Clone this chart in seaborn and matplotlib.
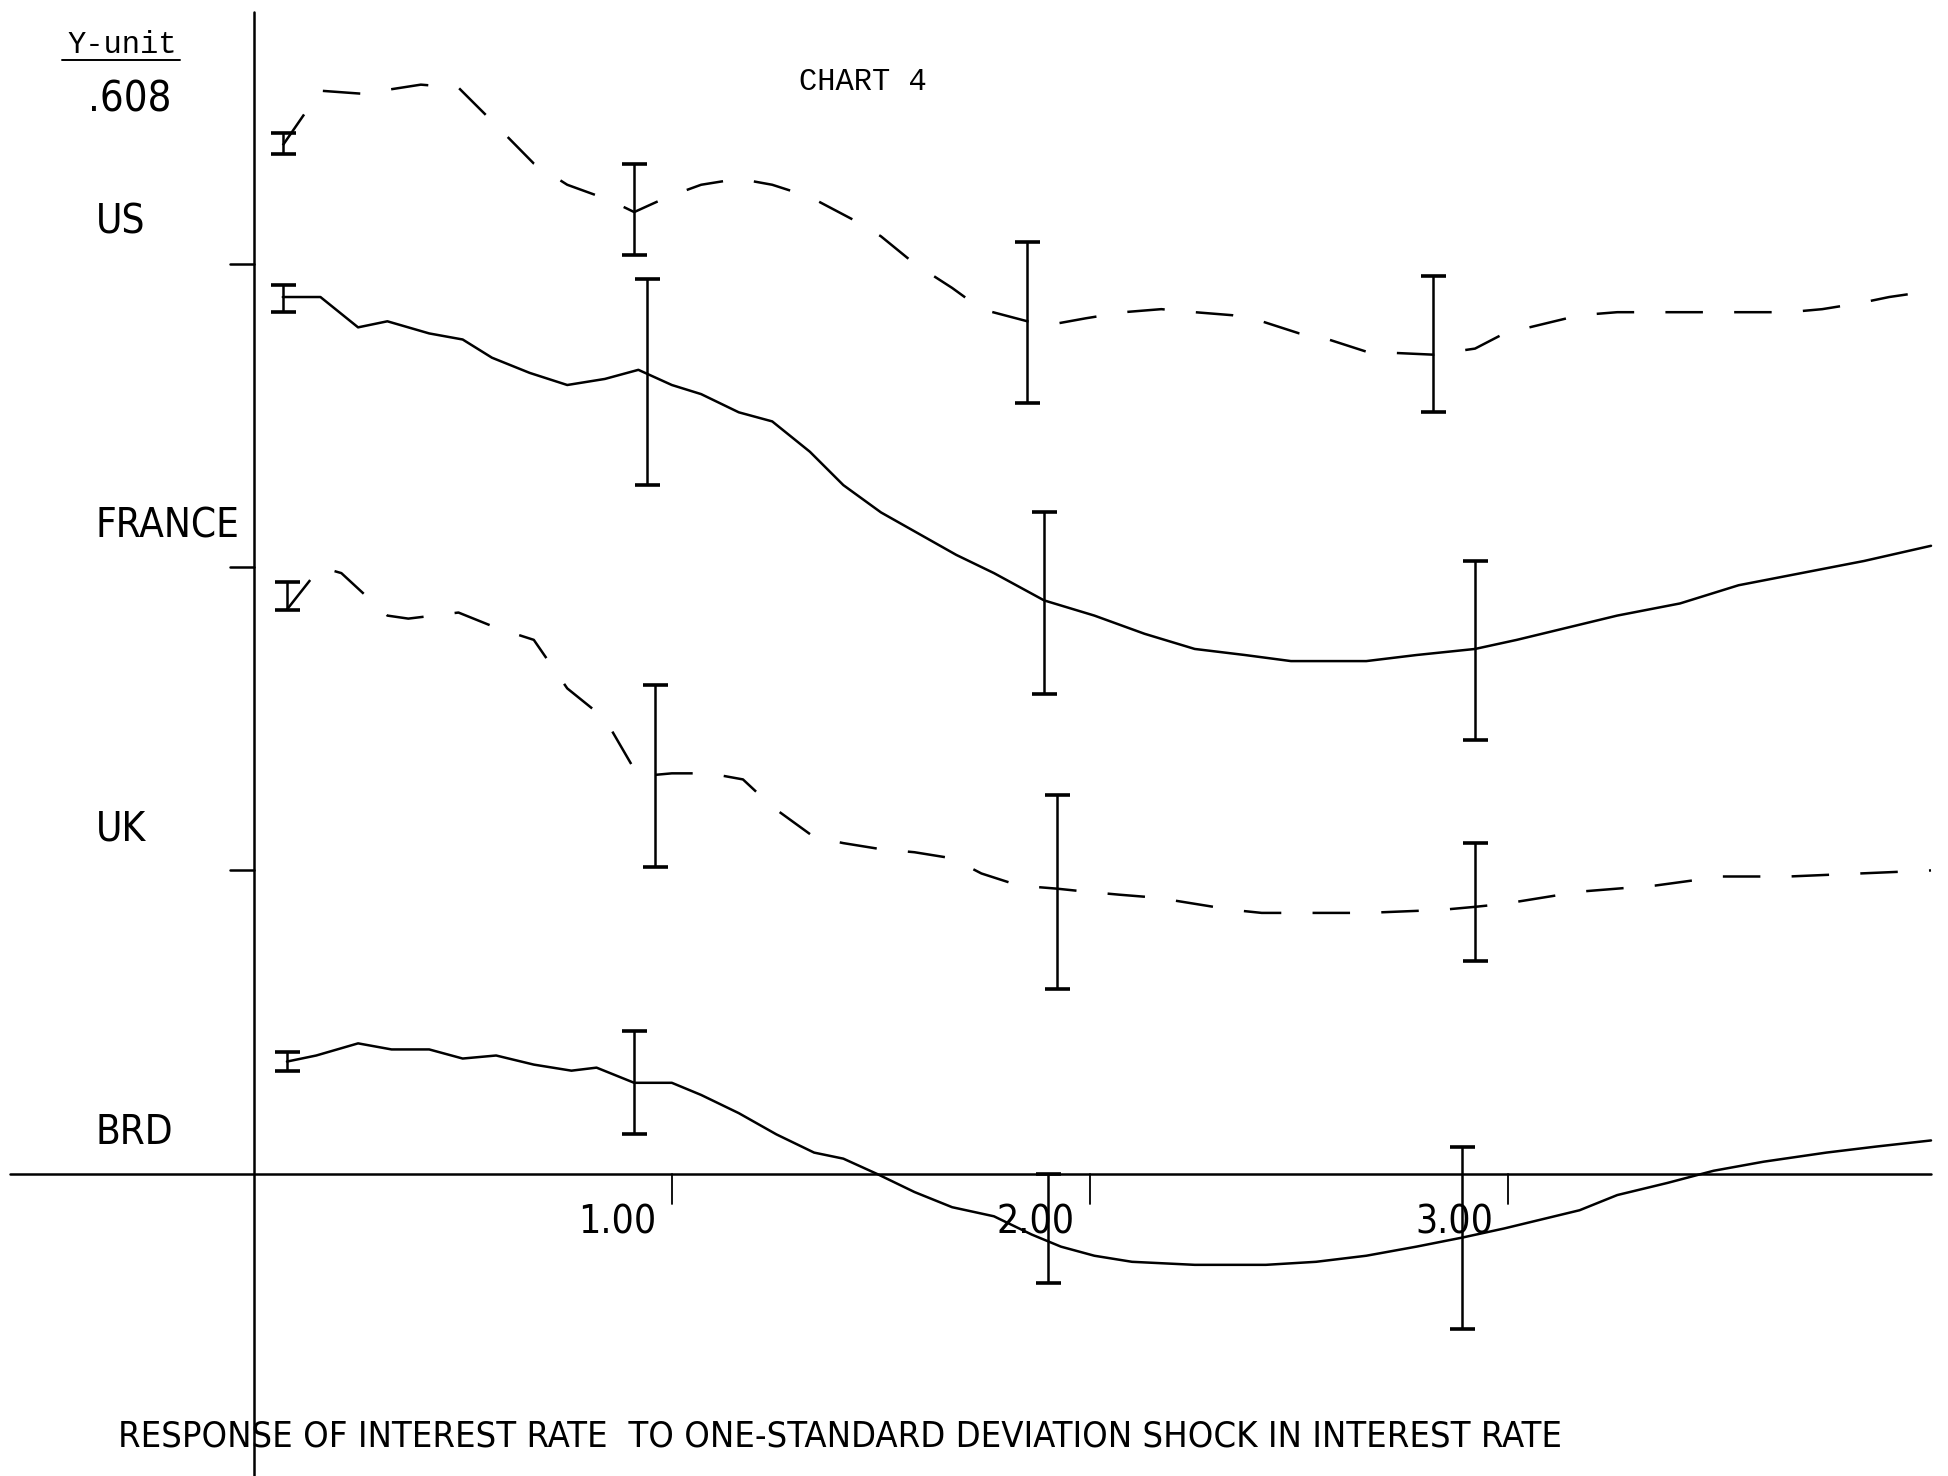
import numpy as np
import pandas as pd
import seaborn as sns
import matplotlib
matplotlib.use("Agg")
import matplotlib.pyplot as plt
from matplotlib import font_manager as fm

# impulse responses, each panel relative to its own baseline (x in years)
us_x = [0.07, 0.16, 0.26, 0.40, 0.49, 0.57, 0.67, 0.75, 0.85, 0.91, 0.99, 1.07, 1.16, 1.24, 1.33,
        1.44, 1.50, 1.58, 1.67, 1.74, 1.85, 1.91, 1.99, 2.08, 2.17, 2.25, 2.34, 2.41, 2.50, 2.57,
        2.66, 2.82, 2.92, 2.99, 3.08, 3.17, 3.26, 3.51, 3.67, 3.75, 3.84, 3.91, 4.01]
us_y = [0.39, 0.57, 0.56, 0.59, 0.58, 0.47, 0.33, 0.26, 0.21, 0.17, 0.22, 0.26, 0.28, 0.26, 0.22,
        0.14, 0.09, 0.00, -0.08, -0.15, -0.19, -0.20, -0.18, -0.16, -0.15, -0.16, -0.17, -0.19, -0.23, -0.25,
        -0.29, -0.30, -0.28, -0.23, -0.20, -0.17, -0.16, -0.16, -0.16, -0.15, -0.13, -0.11, -0.09]

fr_x = [0.07, 0.16, 0.25, 0.32, 0.42, 0.50, 0.57, 0.66, 0.75, 0.84, 0.92, 1.00, 1.07, 1.16, 1.24,
        1.33, 1.41, 1.50, 1.59, 1.68, 1.77, 1.89, 2.01, 2.13, 2.25, 2.37, 2.48, 2.66, 2.78, 2.92,
        3.02, 3.14, 3.26, 3.41, 3.55, 3.70, 3.85, 4.01]
fr_y = [0.89, 0.89, 0.79, 0.81, 0.77, 0.75, 0.69, 0.64, 0.60, 0.62, 0.65, 0.60, 0.57, 0.51, 0.48,
        0.38, 0.27, 0.18, 0.11, 0.04, -0.02, -0.11, -0.16, -0.22, -0.27, -0.29, -0.31, -0.31, -0.29, -0.27,
        -0.24, -0.20, -0.16, -0.12, -0.06, -0.02, 0.02, 0.07]

uk_x = [0.08, 0.16, 0.21, 0.32, 0.37, 0.49, 0.58, 0.67, 0.75, 0.84, 0.92, 1.00, 1.09, 1.17, 1.24,
        1.34, 1.41, 1.50, 1.58, 1.67, 1.74, 1.83, 1.92, 1.99, 2.07, 2.16, 2.25, 2.34, 2.41, 2.50,
        2.66, 2.84, 2.92, 2.99, 3.08, 3.17, 3.26, 3.35, 3.51, 3.67, 3.84, 4.01]
uk_y = [0.86, 1.00, 0.98, 0.84, 0.83, 0.85, 0.80, 0.76, 0.60, 0.50, 0.31, 0.32, 0.32, 0.30, 0.21,
        0.11, 0.09, 0.07, 0.06, 0.04, -0.01, -0.05, -0.06, -0.07, -0.08, -0.09, -0.11, -0.13, -0.14, -0.14,
        -0.14, -0.13, -0.12, -0.11, -0.09, -0.07, -0.06, -0.05, -0.02, -0.02, -0.01, 0.00]

brd_x = [0.08, 0.15, 0.25, 0.33, 0.42, 0.50, 0.58, 0.67, 0.76, 0.82, 0.91, 1.00, 1.07, 1.16, 1.25,
         1.34, 1.41, 1.49, 1.58, 1.67, 1.77, 1.86, 1.93, 2.01, 2.10, 2.25, 2.42, 2.54, 2.66, 2.78,
         2.89, 2.99, 3.08, 3.17, 3.26, 3.38, 3.49, 3.61, 3.76, 3.88, 4.01]
brd_y = [0.37, 0.39, 0.43, 0.41, 0.41, 0.38, 0.39, 0.36, 0.34, 0.35, 0.30, 0.30, 0.26, 0.20, 0.13,
         0.07, 0.05, 0.00, -0.06, -0.11, -0.14, -0.20, -0.24, -0.27, -0.29, -0.30, -0.30, -0.29, -0.27, -0.24,
         -0.21, -0.18, -0.15, -0.12, -0.07, -0.03, 0.01, 0.04, 0.07, 0.09, 0.11]

# error bands (lower / upper) at selected horizons
us_err_x = [0.07, 0.91, 1.85, 2.82]
us_err_lo = [0.36, 0.03, -0.46, -0.49]
us_err_hi = [0.43, 0.33, 0.07, -0.04]
fr_err_x = [0.07, 0.94, 1.89, 2.92]
fr_err_lo = [0.84, 0.27, -0.42, -0.57]
fr_err_hi = [0.93, 0.95, 0.18, 0.02]
uk_err_x = [0.08, 0.96, 1.92, 2.92]
uk_err_lo = [0.86, 0.01, -0.39, -0.30]
uk_err_hi = [0.95, 0.61, 0.25, 0.09]
brd_err_x = [0.08, 0.91, 1.90, 2.89]
brd_err_lo = [0.34, 0.13, -0.36, -0.51]
brd_err_hi = [0.40, 0.47, 0.00, 0.09]

countries = ["US", "FRANCE", "UK", "BRD"]
offsets = [3, 2, 1, 0]
x_ticks = [1.00, 2.00, 3.00]
y_unit = ".608"

series = {
    "US": (us_x, us_y, us_err_x, us_err_lo, us_err_hi, "dashed"),
    "FRANCE": (fr_x, fr_y, fr_err_x, fr_err_lo, fr_err_hi, "solid"),
    "UK": (uk_x, uk_y, uk_err_x, uk_err_lo, uk_err_hi, "dashed"),
    "BRD": (brd_x, brd_y, brd_err_x, brd_err_lo, brd_err_hi, "solid"),
}

sns.set_theme(style="white")
names = {f.name for f in fm.fontManager.ttflist}
narrow = "Liberation Sans Narrow" if "Liberation Sans Narrow" in names else "DejaVu Sans"
plt.rcParams["font.family"] = [narrow, "DejaVu Sans"]
plt.rcParams["text.color"] = "black"
mono = ["Liberation Mono", "DejaVu Sans Mono"]

fig = plt.figure(figsize=(19.49, 14.76), dpi=100)
ax = fig.add_axes([0, 0, 1, 1])
ax.set_xlim(-0.606, 4.053)
ax.set_ylim(-0.996, 3.869)
ax.axis("off")

lw = 1.8
for name, off in zip(countries, offsets):
    xs, ys, ex, elo, ehi, ls = series[name]
    df = pd.DataFrame({"x": xs, "y": np.array(ys) + off})
    style = "-" if ls == "solid" else (0, (15, 12.5))
    sns.lineplot(data=df, x="x", y="y", ax=ax, color="black", linewidth=lw,
                 linestyle=style, sort=False, estimator=None, legend=False)
    lo = np.array(elo) + off
    hi = np.array(ehi) + off
    mid = (lo + hi) / 2
    ax.errorbar(ex, mid, yerr=[mid - lo, hi - mid], fmt="none", ecolor="black",
                elinewidth=lw, capsize=9, capthick=2.6)
    ax.text(-0.377, off + 0.135, name, fontsize=29, fontstretch="condensed",
            color="black", ha="left", va="center")

# axes drawn by hand like the plotter output
ax.plot([-0.582, 4.009], [0, 0], color="black", linewidth=lw)
ax.plot([0, 0], [-0.996, 3.828], color="black", linewidth=lw)
for off in offsets[:-1]:
    ax.plot([-0.056, 0], [off, off], color="black", linewidth=lw)
for t in x_ticks:
    ax.plot([t, t], [0, -0.098], color="black", linewidth=1.3)
    ax.text(t - 0.13, -0.16, f"{t:.2f}", fontsize=28, fontstretch="condensed",
            color="black", ha="center", va="center")

ax.text(-0.315, 3.72, "Y-unit", family=mono, fontsize=22, color="black", ha="center", va="center")
ax.plot([-0.458, -0.175], [3.672, 3.672], color="black", linewidth=1.4)
ax.text(-0.196, 3.541, y_unit, fontsize=30, fontstretch="condensed", color="black",
        ha="right", va="center")
ax.text(1.456, 3.598, "CHART 4", family=mono, fontsize=22, color="black", ha="center", va="center")
ax.text(-0.324, -0.865, "RESPONSE OF INTEREST RATE  TO ONE-STANDARD DEVIATION SHOCK IN INTEREST RATE",
        fontsize=26, fontstretch="condensed", color="black", ha="left", va="center")

fig.savefig("out.png", dpi=100, facecolor="white")
